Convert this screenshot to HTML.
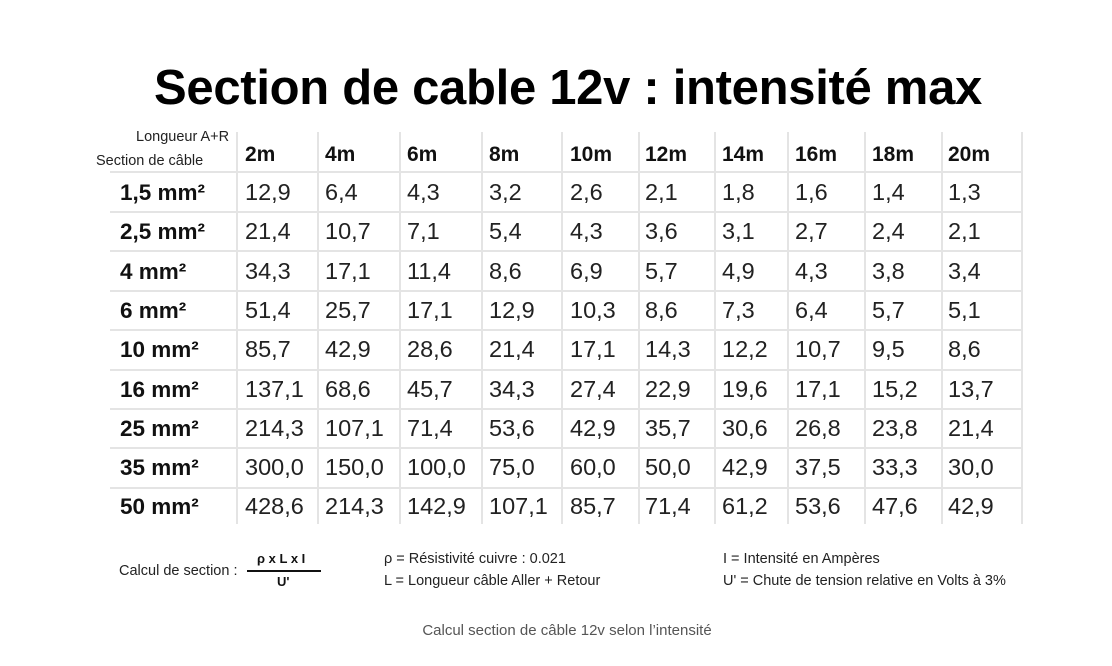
<!DOCTYPE html>
<html><head><meta charset="utf-8"><style>
body{margin:0;width:1112px;height:666px;background:#fff;position:relative;overflow:hidden;font-family:"Liberation Sans",Arial,sans-serif;color:#111}
.a{position:absolute;white-space:nowrap}
.title{left:0;width:1136px;text-align:center;top:60px;font-size:49px;font-weight:bold;color:#000;letter-spacing:-0.3px}
.v{position:absolute;top:132px;height:392px;width:2px;background:#e4e4e4}
.h{position:absolute;left:110px;width:912px;height:2px;background:#e4e4e4}
.c{position:absolute;font-size:23.5px;color:#222}
.hd{position:absolute;font-size:21px;font-weight:bold;color:#111}
.rl{position:absolute;font-size:22.5px;font-weight:bold;color:#111;left:120px}
.s{font-size:14.5px;color:#222}
</style></head><body>
<div class="a title">Section de cable 12v : intensité max</div>
<div class="a s" style="left:136px;top:129px">Longueur A+R</div>
<div class="a s" style="left:96px;top:153px">Section de câble</div>
<div class="v" style="left:236px"></div><div class="v" style="left:317px"></div><div class="v" style="left:399px"></div><div class="v" style="left:481px"></div><div class="v" style="left:561px"></div><div class="v" style="left:638px"></div><div class="v" style="left:714px"></div><div class="v" style="left:787px"></div><div class="v" style="left:864px"></div><div class="v" style="left:941px"></div><div class="v" style="left:1021px"></div>
<div class="h" style="top:171px"></div><div class="h" style="top:211px"></div><div class="h" style="top:250px"></div><div class="h" style="top:290px"></div><div class="h" style="top:329px"></div><div class="h" style="top:369px"></div><div class="h" style="top:408px"></div><div class="h" style="top:447px"></div><div class="h" style="top:487px"></div>
<div id="t"></div>
<script>
var xs=[245,325,407,489,570,645,722,795,872,948];
var hd=["2m","4m","6m","8m","10m","12m","14m","16m","18m","20m"];
var rl=["1,5 mm²","2,5 mm²","4 mm²","6 mm²","10 mm²","16 mm²","25 mm²","35 mm²","50 mm²"];
var d=[["12,9","6,4","4,3","3,2","2,6","2,1","1,8","1,6","1,4","1,3"],
["21,4","10,7","7,1","5,4","4,3","3,6","3,1","2,7","2,4","2,1"],
["34,3","17,1","11,4","8,6","6,9","5,7","4,9","4,3","3,8","3,4"],
["51,4","25,7","17,1","12,9","10,3","8,6","7,3","6,4","5,7","5,1"],
["85,7","42,9","28,6","21,4","17,1","14,3","12,2","10,7","9,5","8,6"],
["137,1","68,6","45,7","34,3","27,4","22,9","19,6","17,1","15,2","13,7"],
["214,3","107,1","71,4","53,6","42,9","35,7","30,6","26,8","23,8","21,4"],
["300,0","150,0","100,0","75,0","60,0","50,0","42,9","37,5","33,3","30,0"],
["428,6","214,3","142,9","107,1","85,7","71,4","61,2","53,6","47,6","42,9"]];
var h="";
for(var i=0;i<10;i++)h+='<div class="hd" style="left:'+xs[i]+'px;top:143px">'+hd[i]+'</div>';
for(var r=0;r<9;r++){var y=179+r*39.3;
h+='<div class="rl" style="top:'+(y+1)+'px">'+rl[r]+'</div>';
for(var i=0;i<10;i++)h+='<div class="c" style="left:'+xs[i]+'px;top:'+y+'px">'+d[r][i]+'</div>';}
document.getElementById("t").innerHTML=h;
</script>
<div class="a s" style="left:119px;top:563px">Calcul de section :</div>
<div class="a" style="left:257px;top:551px;font-size:13px;font-weight:bold">ρ x L x I</div>
<div class="a" style="left:247px;top:570px;width:74px;height:2px;background:#111"></div>
<div class="a" style="left:277px;top:574px;font-size:13px;font-weight:bold">U'</div>
<div class="a s" style="left:384px;top:551px">ρ = Résistivité cuivre : 0.021</div>
<div class="a s" style="left:384px;top:573px">L = Longueur câble Aller + Retour</div>
<div class="a s" style="left:723px;top:551px">I = Intensité en Ampères</div>
<div class="a s" style="left:723px;top:573px">U' = Chute de tension relative en Volts à 3%</div>
<div class="a" style="left:0;width:1134px;text-align:center;top:622px;font-size:15px;color:#555">Calcul section de câble 12v selon l’intensité</div>
</body></html>
